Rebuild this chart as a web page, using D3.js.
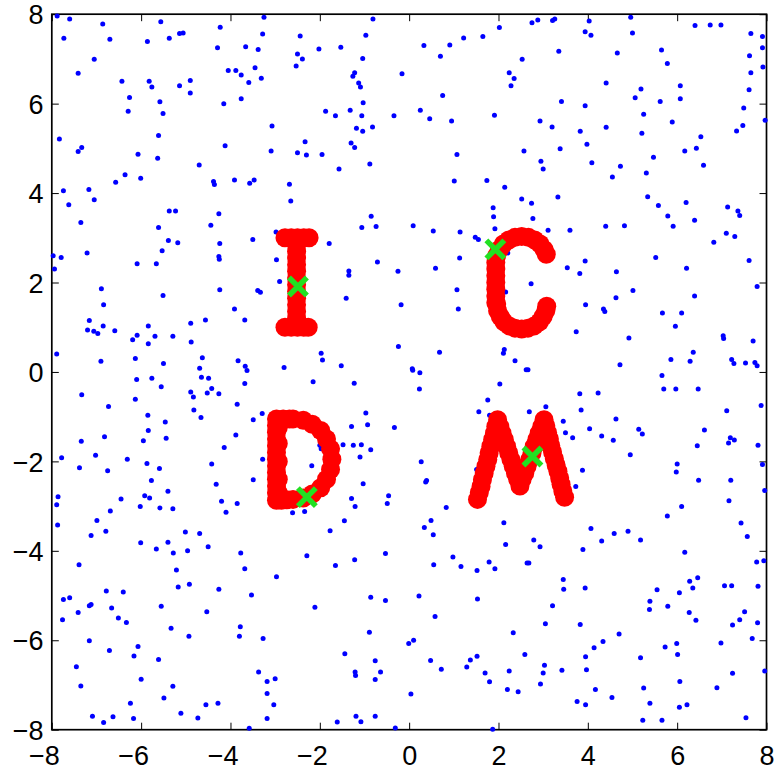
<!DOCTYPE html>
<html>
<head>
<meta charset="utf-8">
<script src="https://d3js.org/d3.v7.min.js"></script>
<style>
  html, body { margin: 0; padding: 0; background: #fff; }
  svg { display: block; }
</style>
</head>
<body>
<div id="chart"></div>
<script>
// axis ticks
const tickValues = [-8, -6, -4, -2, 0, 2, 4, 6, 8];

// background noise points [x, y]
const noiseUpper = [
  [-7.88,7.96],[-7.60,7.89],[-6.86,7.78],[-5.56,7.83],[-4.23,7.71],[-3.25,7.93],[-7.73,7.46],[-6.70,7.44],[-5.86,7.39],[-5.37,7.46],
  [-5.14,7.57],[-5.06,7.58],[-4.29,7.25],[-3.66,7.27],[-3.38,7.21],[-3.28,7.56],[-7.05,6.99],[-7.41,6.68],[-6.43,6.50],[-5.82,6.50],
  [-5.76,6.37],[-5.14,6.40],[-4.90,6.52],[-4.90,6.24],[-4.05,6.74],[-3.88,6.74],[-3.76,6.64],[-3.45,6.80],[-3.31,6.57],[-3.59,6.47],
  [-6.26,6.14],[-6.29,5.83],[-5.58,6.04],[-5.51,5.78],[-4.15,6.00],[-3.76,6.11],[-3.07,5.50],[-7.83,5.21],[-7.33,5.02],[-7.41,4.93],
  [-5.61,5.29],[-6.07,4.87],[-5.63,4.78],[-4.12,5.06],[-3.09,4.94],[-4.70,4.63],[-6.36,4.41],[-6.57,4.24],[-6.01,4.33],[-4.38,4.26],
  [-4.36,4.19],[-3.91,4.29],[-3.57,4.22],[-3.47,4.29],[-7.74,4.05],[-7.17,4.08],[-7.05,3.85],[-7.62,3.74],[-5.37,3.60],[-5.23,3.60],
  [-4.26,3.54],[-7.35,3.34],[-5.61,3.23],[-4.44,3.28],[-2.98,3.13],[-5.39,2.94],[-5.18,2.89],[-4.24,2.87],[-3.50,2.96],[-7.21,2.66],
  [-5.53,2.71],
  [-0.81,7.89],[2.02,7.70],[-2.44,7.51],[-0.97,7.53],[-2.02,7.22],[-1.53,7.26],[-2.50,7.11],[-2.39,7.00],[-2.53,6.84],[-1.04,7.01],
  [0.33,7.30],[0.91,7.31],[1.22,7.47],[1.65,7.50],[0.70,7.06],[2.53,6.99],[-0.16,6.67],[-1.22,6.69],[-1.26,6.61],[-1.13,6.46],
  [-1.09,6.37],[2.24,6.69],[2.35,6.56],[2.28,6.40],[0.75,6.18],[-1.03,6.02],[-1.87,5.83],[-1.65,5.73],[-1.32,5.85],[-1.06,5.73],
  [-0.34,5.73],[0.25,5.85],[0.46,5.66],[0.95,5.61],[1.91,5.74],[-1.18,5.45],[-1.04,5.38],[-0.82,5.48],[-2.33,5.15],[-2.50,4.90],
  [-2.30,4.85],[-1.95,4.86],[-1.30,5.12],[-1.22,5.02],[2.57,4.94],[1.07,4.86],[-1.57,4.54],[-0.88,4.65],[-2.68,4.20],[-2.65,3.82],
  [1.01,4.27],[1.74,4.28],[2.14,4.13],[2.52,3.87],[1.88,3.67],[1.89,3.47],[1.92,3.20],[-0.85,3.48],[-1.06,3.23],[-0.74,3.25],
  [0.09,3.27],[0.54,3.15],[1.14,3.13],[1.48,3.01],[1.55,2.96],[-1.79,2.87],[2.21,2.66],
  [2.75,7.81],[2.88,7.87],[3.21,7.86],[3.26,7.89],[4.03,7.85],[4.96,7.93],[3.94,7.61],[4.07,7.53],[5.00,7.58],[6.40,7.75],
  [6.74,7.76],[6.98,7.76],[7.65,7.57],[7.91,7.50],[3.35,7.17],[4.66,7.13],[5.65,7.20],[5.78,6.90],[7.62,7.07],[7.91,7.25],
  [7.92,6.82],[7.65,6.69],[4.41,6.46],[5.19,6.33],[5.06,6.13],[6.07,6.40],[6.07,6.11],[5.62,6.05],[7.61,6.31],[3.41,6.05],
  [3.94,5.95],[5.25,5.76],[5.89,5.59],[7.49,5.90],[7.97,5.63],[2.93,5.61],[3.20,5.48],[3.83,5.38],[4.41,5.47],[5.21,5.34],
  [7.33,5.39],[7.47,5.51],[6.53,5.26],[3.38,4.99],[3.98,5.09],[6.17,4.94],[6.43,5.00],[5.47,4.80],[2.95,4.71],[3.00,4.54],
  [4.09,4.68],[4.73,4.60],[4.55,4.36],[5.31,4.45],[6.59,4.62],[3.33,3.91],[2.74,3.77],[2.77,3.43],[5.34,3.92],[5.58,3.72],
  [6.20,3.79],[5.79,3.49],[5.91,3.26],[6.39,3.39],[7.13,3.69],[7.36,3.60],[7.40,3.50],[3.11,3.17],[3.60,3.17],[4.40,3.26],
  [4.82,3.27],[6.82,2.90],[7.10,3.10],[7.29,3.03]
];

const noiseMiddle = [
  [-7.97,2.60],[-7.79,2.56],[-4.26,2.58],[-4.25,2.52],[-7.94,2.30],[-6.09,2.42],[-5.66,2.42],[-2.97,2.51],[-2.90,2.02],[-6.89,1.86],
  [-6.84,1.50],[-5.51,1.71],[-4.24,1.84],[-3.39,1.82],[-3.33,1.78],[-3.91,1.41],[-3.68,1.16],[-4.56,1.16],[-7.16,1.15],[-7.20,0.94],
  [-7.06,0.91],[-6.97,0.86],[-6.85,1.03],[-6.59,0.92],[-5.84,1.03],[-6.09,0.82],[-6.19,0.72],[-5.69,0.80],[-5.84,0.63],[-5.29,0.80],
  [-4.89,1.09],[-4.88,0.67],[-7.89,0.40],[-6.90,0.24],[-6.13,0.30],[-5.50,0.19],[-4.63,0.32],[-4.69,0.08],[-3.83,0.25],[-3.67,0.13],
  [-3.63,0.03],[-2.80,0.10],[-6.10,-0.17],[-5.76,-0.14],[-5.55,-0.33],[-4.65,-0.12],[-4.49,-0.14],[-4.42,-0.37],[-4.52,-0.47],[-4.26,-0.49],
  [-4.89,-0.45],[-4.83,-0.56],[-3.68,-0.26],[-7.33,-0.51],[-6.73,-0.77],[-6.13,-0.61],[-3.85,-0.72],[-4.82,-0.85],[-4.66,-1.02],[-5.85,-0.97],
  [-5.46,-1.12],[-3.29,-0.93],[-3.49,-1.07],[-5.84,-1.31],[-5.44,-1.48],[-5.95,-1.54],[-6.82,-1.45],[-7.34,-1.55],[-3.88,-1.41],[-4.14,-1.69],
  [-7.78,-1.92],[-7.02,-1.86],[-6.31,-1.95],[-7.38,-2.14],[-6.75,-2.21],[-5.87,-2.05],[-5.59,-2.16],[-4.42,-2.06],[-3.28,-1.95],[-5.77,-2.43],
  [-5.40,-2.67],[-4.32,-2.51],[-3.49,-2.41],
  [-0.71,2.46],[-1.35,2.26],[-1.35,2.16],[-0.25,2.25],[0.59,2.32],[1.13,2.55],[-1.41,1.65],[-0.18,1.50],[1.07,1.84],[1.10,1.41],
  [2.16,1.79],[-0.24,0.57],[-1.97,0.42],[-1.94,0.27],[-1.52,0.14],[0.68,0.44],[0.07,0.07],[0.08,0.04],[0.24,-0.02],[0.23,-0.38],
  [-2.15,-0.22],[-1.23,-0.25],[2.13,0.50],[2.11,0.42],[2.37,0.25],[2.62,0.05],[2.03,-0.27],[1.76,-0.63],[1.56,-0.89],[1.80,-0.97],
  [-0.97,-0.92],[-1.29,-1.22],[-0.93,-1.18],[-0.33,-1.24],[-2.00,-1.64],[-1.97,-1.72],[-1.48,-1.63],[-1.25,-1.64],[-1.07,-1.63],[-0.86,-1.74],
  [-1.10,-1.90],[-2.18,-2.10],[0.27,-2.01],[-1.03,-2.50],[0.39,-2.43],[0.37,-2.46],[1.51,-2.18],
  [3.94,2.48],[3.54,2.33],[3.82,2.20],[4.64,2.24],[5.52,2.56],[6.21,2.32],[7.61,2.49],[2.73,1.97],[5.01,1.82],[4.63,1.66],
  [3.95,1.50],[4.35,1.41],[4.38,1.35],[6.39,1.70],[7.79,1.91],[5.67,1.32],[6.10,1.32],[5.96,1.02],[3.74,0.90],[4.92,0.76],
  [7.03,0.81],[7.04,0.75],[7.70,0.69],[6.36,0.44],[5.86,0.28],[6.29,0.24],[7.22,0.28],[7.27,0.19],[7.53,0.20],[7.74,0.21],
  [7.79,0.14],[4.72,0.16],[2.66,0.05],[5.66,-0.08],[5.70,-0.38],[5.97,-0.38],[6.47,-0.38],[3.82,-0.49],[4.23,-0.47],[7.88,-0.75],
  [7.11,-0.87],[2.69,-0.89],[3.06,-0.78],[3.85,-0.85],[3.45,-1.10],[4.63,-1.05],[3.50,-1.36],[3.66,-1.47],[4.04,-1.27],[4.31,-1.43],
  [4.57,-1.53],[5.14,-1.28],[5.22,-1.39],[6.61,-1.30],[7.19,-1.47],[7.28,-1.52],[7.15,-1.59],[6.45,-1.65],[7.81,-1.64],[4.95,-1.85],
  [6.00,-2.06],[5.98,-2.24],[7.91,-2.07],[3.88,-2.20],[3.73,-2.56],[6.48,-2.42],[7.20,-2.42],[7.96,-2.65]
];

const noiseLower = [
  [-7.86,-2.79],[-7.89,-2.97],[-6.45,-2.84],[-5.92,-2.77],[-5.81,-2.82],[-6.02,-3.01],[-6.69,-3.11],[-5.58,-3.04],[-5.29,-3.06],[-4.20,-2.89],
  [-3.85,-2.94],[-4.10,-3.14],[-7.87,-3.42],[-6.99,-3.32],[-7.12,-3.66],[-6.79,-3.56],[-5.01,-3.58],[-4.69,-3.61],[-6.01,-3.82],[-5.40,-3.81],
  [-5.66,-3.96],[-5.28,-4.05],[-4.96,-4.00],[-4.50,-3.91],[-3.77,-4.05],[-7.39,-4.31],[-3.68,-4.40],[-2.97,-4.58],[-5.21,-4.43],[-5.17,-4.81],
  [-4.92,-4.75],[-4.26,-4.86],[-3.53,-4.99],[-7.74,-5.09],[-7.60,-5.05],[-6.78,-4.90],[-6.40,-4.92],[-7.16,-5.23],[-7.12,-5.20],[-7.41,-5.38],
  [-7.76,-5.54],[-6.66,-5.28],[-6.51,-5.50],[-6.33,-5.60],[-5.55,-5.24],[-4.53,-5.36],[-5.33,-5.73],[-4.93,-5.91],[-3.78,-5.70],[-3.80,-5.91],
  [-3.27,-5.96],[-7.16,-6.01],[-6.71,-6.23],[-6.07,-6.14],[-6.16,-6.35],[-5.61,-6.43],[-7.45,-6.59],[-7.35,-7.02],[-6.00,-6.87],[-5.29,-7.03],
  [-5.49,-7.29],[-3.37,-6.71],[-3.18,-6.92],[-3.00,-6.86],[-3.18,-7.19],[-3.03,-7.44],[-6.24,-7.41],[-4.55,-7.44],[-4.28,-7.41],[-5.11,-7.63],
  [-7.09,-7.70],[-6.84,-7.84],[-6.63,-7.71],[-6.17,-7.75],[-4.73,-7.74],[-3.18,-7.75],[-3.58,-7.97],
  [-1.29,-2.83],[-0.46,-2.77],[-0.49,-2.94],[-1.21,-3.01],[-2.61,-3.15],[-2.34,-3.12],[0.83,-3.03],[-1.45,-3.33],[-1.77,-3.55],[0.49,-3.32],
  [0.34,-3.48],[0.54,-3.64],[2.12,-3.37],[2.16,-3.86],[-2.29,-4.11],[-1.65,-4.33],[-1.22,-4.20],[-0.53,-4.06],[0.55,-4.31],[0.98,-4.14],
  [1.16,-4.35],[1.52,-4.44],[1.79,-4.25],[1.92,-4.40],[2.64,-4.27],[-0.86,-5.04],[-0.53,-5.11],[0.22,-5.01],[1.53,-5.08],[-2.11,-5.26],
  [0.58,-5.47],[-0.89,-5.82],[-0.01,-6.07],[0.10,-6.00],[2.33,-5.83],[2.59,-6.32],[-1.44,-6.30],[-0.76,-6.46],[-1.21,-6.71],[-1.20,-6.79],
  [-0.64,-6.71],[-0.76,-6.88],[0.48,-6.45],[0.72,-6.65],[1.37,-6.44],[1.52,-6.36],[1.29,-6.60],[1.70,-6.73],[1.80,-6.93],[2.24,-6.69],
  [2.20,-7.10],[2.44,-7.15],[0.04,-7.20],[-1.61,-7.83],[-1.19,-7.70],[-1.08,-7.82],[-0.76,-7.70],[-0.31,-7.96],[1.87,-7.99],
  [7.16,-2.88],[6.10,-3.01],[5.78,-3.22],[7.43,-3.38],[7.57,-3.68],[4.07,-3.50],[4.59,-3.61],[4.90,-3.56],[5.18,-3.76],[4.31,-3.78],
  [2.79,-3.76],[2.93,-3.91],[3.89,-3.97],[6.17,-4.03],[2.68,-4.27],[7.78,-4.25],[7.94,-4.22],[3.45,-4.64],[3.46,-4.86],[3.94,-4.83],
  [5.55,-4.87],[6.05,-4.94],[6.28,-4.68],[6.46,-4.60],[6.35,-4.83],[7.06,-4.78],[7.22,-4.78],[7.81,-4.79],[5.39,-5.13],[5.38,-5.31],
  [5.79,-5.24],[3.21,-5.23],[3.05,-5.63],[3.83,-5.65],[6.27,-5.38],[6.42,-5.55],[7.24,-5.66],[7.40,-5.54],[7.51,-5.36],[7.80,-5.61],
  [4.70,-5.86],[4.34,-6.03],[4.14,-6.17],[3.95,-6.37],[5.73,-6.15],[5.99,-6.07],[6.01,-6.32],[5.18,-6.39],[6.98,-6.06],[7.68,-5.96],
  [3.03,-6.56],[3.00,-6.73],[3.42,-6.67],[3.97,-6.66],[2.94,-6.98],[7.24,-6.74],[7.96,-6.69],[6.06,-6.92],[5.25,-7.07],[6.89,-7.06],
  [4.17,-7.10],[4.54,-7.28],[3.76,-7.37],[3.95,-7.44],[5.39,-7.41],[6.05,-7.50],[6.22,-7.44],[5.23,-7.79],[5.66,-7.79],[7.54,-7.73]
];

// letter samples [x, y]
const letterI = [
  [-2.78,3.0],[-2.64,3.0],[-2.50,3.0],[-2.36,3.0],[-2.24,3.0],
  [-2.52,2.85],[-2.52,2.7],[-2.52,2.55],[-2.52,2.4],[-2.52,2.25],[-2.52,2.1],[-2.52,1.95],
  [-2.52,1.8],[-2.52,1.65],[-2.52,1.5],[-2.52,1.35],[-2.52,1.2],
  [-2.78,1.0],[-2.64,1.0],[-2.50,1.0],[-2.36,1.0],[-2.26,1.0]
];

const letterC = [
  [3.07,2.63],[3.02,2.74],[2.93,2.86],[2.81,2.95],[2.67,3.01],[2.52,3.03],[2.37,3.01],[2.23,2.95],
  [2.11,2.86],[2.02,2.74],[1.96,2.60],[1.94,2.45],
  [1.94,2.3],[1.94,2.15],[1.94,2.0],[1.94,1.85],[1.94,1.7],[1.94,1.55],
  [1.96,1.52],[1.98,1.37],[2.04,1.24],[2.12,1.12],[2.24,1.03],[2.37,0.98],[2.52,0.96],
  [2.66,0.98],[2.80,1.03],[2.92,1.12],[3.00,1.24],[3.06,1.37],[3.08,1.47]
];

const letterD = [
  [-2.97,-1.05],[-2.97,-1.2],[-2.97,-1.35],[-2.97,-1.5],[-2.97,-1.65],[-2.97,-1.8],[-2.97,-1.95],
  [-2.97,-2.1],[-2.97,-2.25],[-2.97,-2.4],[-2.97,-2.55],[-2.97,-2.7],[-2.97,-2.87],
  [-2.93,-1.25],[-2.93,-1.6],[-2.93,-2.0],[-2.93,-2.4],[-2.93,-2.7],
  [-2.82,-1.05],[-2.68,-1.05],[-2.60,-1.05],[-2.37,-1.08],[-2.17,-1.17],[-1.98,-1.31],[-1.85,-1.50],
  [-1.76,-1.72],[-1.73,-1.95],[-1.76,-2.18],[-1.85,-2.40],[-1.98,-2.59],[-2.17,-2.73],[-2.37,-2.82],
  [-2.60,-2.85],[-2.74,-2.86],[-2.86,-2.87]
];

const letterM = [
  [1.53,-2.85],[1.57,-2.70],[1.61,-2.56],[1.64,-2.41],[1.68,-2.26],[1.72,-2.11],[1.76,-1.96],
  [1.79,-1.81],[1.83,-1.66],[1.87,-1.51],[1.91,-1.37],[1.94,-1.22],[1.98,-1.07],
  [2.03,-1.22],[2.08,-1.37],[2.13,-1.51],[2.18,-1.66],[2.23,-1.81],[2.28,-1.96],[2.33,-2.11],
  [2.38,-2.26],[2.43,-2.40],[2.48,-2.55],
  [2.53,-2.40],[2.59,-2.26],[2.64,-2.11],[2.70,-1.96],[2.75,-1.81],[2.80,-1.66],[2.86,-1.51],
  [2.91,-1.37],[2.97,-1.22],[3.02,-1.07],
  [3.06,-1.21],[3.10,-1.36],[3.14,-1.50],[3.17,-1.65],[3.21,-1.79],[3.25,-1.94],[3.29,-2.08],
  [3.33,-2.22],[3.37,-2.37],[3.40,-2.51],[3.44,-2.66],[3.48,-2.80]
];

// marked points (green crosses)
const centers = [[-2.49,1.91],[1.93,2.74],[-2.29,-2.80],[2.76,-1.89]];

const width = 777, height = 771;
const margin = {top: 14.2, right: 10.5, bottom: 41.3, left: 51.8};
const fontSize = 27;

const svg = d3.select('#chart').append('svg')
  .attr('width', width)
  .attr('height', height);

const x = d3.scaleLinear().domain([-8, 8]).range([margin.left, width - margin.right]);
const y = d3.scaleLinear().domain([-8, 8]).range([height - margin.bottom, margin.top]);

// axes box
svg.append('rect')
  .attr('x', x(-8)).attr('y', y(8))
  .attr('width', x(8) - x(-8)).attr('height', y(-8) - y(8))
  .attr('fill', 'none').attr('stroke', '#000').attr('stroke-width', 1.7);

const tickLen = 7;
const axisFont = '"Liberation Sans", Arial, Helvetica, sans-serif';

const gx = svg.append('g')
  .attr('transform', `translate(0,${y(-8)})`)
  .call(d3.axisBottom(x).tickValues(tickValues).tickSizeInner(-tickLen).tickSizeOuter(0));
const gxTop = svg.append('g')
  .attr('transform', `translate(0,${y(8)})`)
  .call(d3.axisTop(x).tickValues(tickValues).tickSizeInner(-tickLen).tickSizeOuter(0).tickFormat(() => ''));
const gy = svg.append('g')
  .attr('transform', `translate(${x(-8)},0)`)
  .call(d3.axisLeft(y).tickValues(tickValues).tickSizeInner(-tickLen).tickSizeOuter(0));
const gyRight = svg.append('g')
  .attr('transform', `translate(${x(8)},0)`)
  .call(d3.axisRight(y).tickValues(tickValues).tickSizeInner(-tickLen).tickSizeOuter(0).tickFormat(() => ''));

[gx, gxTop, gy, gyRight].forEach(g => {
  g.select('.domain').remove();
  g.selectAll('.tick line').attr('stroke', '#000').attr('stroke-width', 1);
  g.attr('font-family', axisFont).attr('font-size', fontSize);
});

// bottom labels: digit centred on the tick, minus sign hangs to the left
const digitHalf = fontSize * 0.556 / 2;
gx.selectAll('.tick text')
  .attr('fill', '#000')
  .attr('y', 35.8)
  .attr('dy', null)
  .attr('text-anchor', d => d < 0 ? 'end' : 'middle')
  .attr('x', d => d < 0 ? digitHalf : 0);

gy.selectAll('.tick text')
  .attr('fill', '#000')
  .attr('x', -8.3)
  .attr('dy', '0.36em')
  .attr('text-anchor', 'end');

// noise points
const noise = noiseUpper.concat(noiseMiddle, noiseLower);
svg.append('g')
  .selectAll('circle')
  .data(noise)
  .join('circle')
  .attr('cx', d => x(d[0]))
  .attr('cy', d => y(d[1]))
  .attr('r', 2.5)
  .attr('fill', '#0000ff');

// letters
const letters = letterI.concat(letterC, letterD, letterM);
svg.append('g')
  .selectAll('circle')
  .data(letters)
  .join('circle')
  .attr('cx', d => x(d[0]))
  .attr('cy', d => y(d[1]))
  .attr('r', 9.5)
  .attr('fill', '#ff0000');

// crosses
const s = 9;
svg.append('g')
  .selectAll('path')
  .data(centers)
  .join('path')
  .attr('transform', d => `translate(${x(d[0])},${y(d[1])})`)
  .attr('d', `M${-s},${-s}L${s},${s}M${-s},${s}L${s},${-s}`)
  .attr('stroke', '#22e022')
  .attr('stroke-width', 5.5)
  .attr('fill', 'none');
</script>
</body>
</html>
